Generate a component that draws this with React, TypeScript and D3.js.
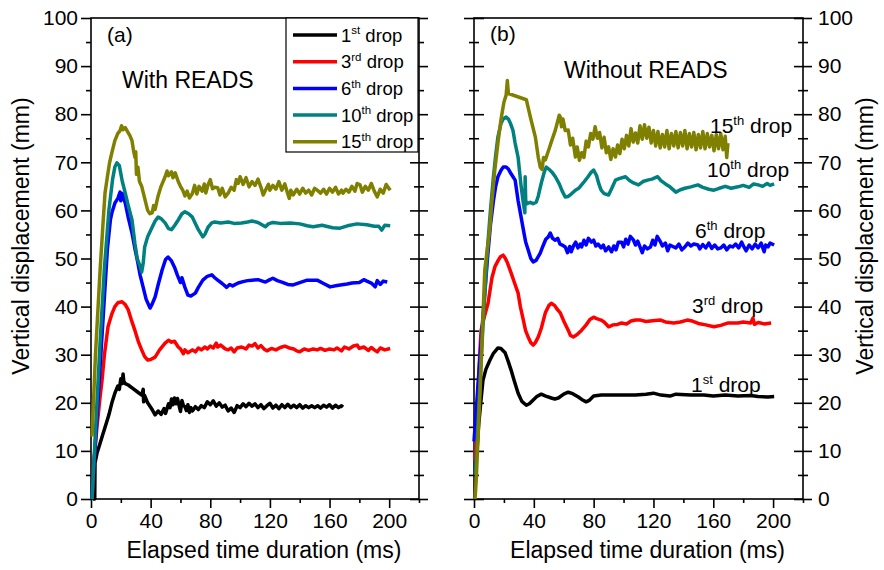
import React, { useEffect, useRef } from "react"
import * as d3 from "d3"

const W = 884
const H = 570

// time (ms), vertical displacement (mm) — panel (a) With READS
const a1st: [number, number][] = [[1.3,0],[2.5,0],[2.7,7.5],[4,9.5],[6,11.5],[8,13.5],[10,15.5],[12,17.5],[14,20],[16,22],[18,23.5],[19,22.8],[20,25],[21,24],[21.5,26],[22,24.5],[23,24],[25,23.7],[28,23],[31,22.3],[34,21.6],[35,22.8],[35.3,20.2],[36,21.5],[38,20],[41,18.6],[43,17.5],[45,18.3],[47,17.6],[49,18.8],[50,17.8],[52,19.8],[53,19],[54,20.8],[55,19.6],[56,21],[57,19.8],[58,20.9],[59,19.5],[60,18.2],[61,20.5],[62,19.4],[63,19.2],[64,18.4],[65,19.6],[66,18],[67,19],[68,18.3],[70,19.2],[72,18.6],[74,19.4],[76,19],[78,20.2],[80,19.6],[82,20.4],[84,19.3],[86,20],[88,19.1],[90,19.5],[92,18.3],[94,18.9],[96,18],[98,19.4],[100,19],[102,19.8],[104,19.2],[106,19.9],[108,19.3],[110,19.8],[112,19],[114,19.6],[116,18.8],[118,19.4],[120,19.9],[122,18.9],[124,19.5],[126,18.8],[128,19.6],[130,19],[132,19.7],[134,19],[136,19.5],[138,19],[140,19.6],[142,18.9],[144,19.4],[146,19],[148,19.4],[150,19],[152,19.4],[154,18.9],[156,19.5],[158,19.1],[160,19.6],[162,18.9],[164,19.5],[166,19],[168,19.4],[169,19.1]]
const a3rd: [number, number][] = [[0.7,0],[2,8],[4,15],[6,21],[7.4,24.7],[9,30],[11.4,35.8],[14,38.5],[16,40],[18,40.8],[20.8,41],[23,40.4],[25,39.3],[27,37.3],[29.5,35],[32,32.5],[34,31],[36,29.6],[38,28.9],[40,29],[43,29.5],[46,31],[49.7,32.4],[52,33],[54,32.6],[56,32.8],[58.5,31.6],[60,31.2],[62,30.2],[63,31],[65,30.4],[68,31],[70,30.6],[72,31.4],[74,31],[76.5,31.6],[78,31.2],[80,31.8],[82,31.4],[84,32.4],[85,31.6],[87,32],[90,31.2],[92,31],[94,31.4],[96,30.6],[98,31.4],[101,31.6],[104,31.2],[106,32],[108,31.8],[110,32.3],[112,31.4],[114,31.9],[116,31.2],[118,30.8],[121,31.3],[124,31],[127,31.5],[130,31.8],[133,31.4],[136,31.2],[138,30.8],[140,30.6],[143,31.2],[146,30.9],[149,31.2],[151.7,31],[154,31.3],[157,30.9],[160,31.2],[163,31],[165,31.4],[168,30.8],[170,31.6],[173,31.2],[176,31.8],[178.5,32],[180,31.3],[183,31.6],[186,30.9],[188,31.5],[190,31],[192,30.6],[194,31.4],[197,31],[200.7,31.3]]
const a6th: [number, number][] = [[0.5,0],[3,12],[6,27],[9,42],[11,52],[13,58],[14,59.5],[16,61.5],[18,62.5],[19.5,63.8],[20,62],[21,63.5],[23,61.5],[25,58.5],[27.5,55.3],[29.5,52],[31.5,49],[33,46.5],[35,44],[37,41.5],[39.6,39.7],[41,40.5],[43,42],[45,44.5],[47.7,47.6],[50,49.8],[51.7,50.3],[54,49.5],[56,48.2],[58,46.5],[60,45],[61,46],[63,44],[65,42.4],[67,42.2],[70,42.8],[72,44],[75,45.5],[78,46.3],[81,46.6],[83,46],[85,45.5],[88,44.8],[91,44],[93,44.6],[95,44.3],[98.7,44.9],[102,45.2],[105,45.4],[108,45.5],[112,45.6],[117,45.1],[120,45.6],[122,45.9],[125,45.4],[128,45.1],[132,44.6],[135.6,44.5],[140,45],[145,45.5],[151.7,45.5],[156,44.8],[160.4,44.1],[165,44.4],[171.8,44.7],[175,44.9],[180,45],[183,45.6],[185,45.3],[188,44.9],[190.6,44.1],[192,45.4],[194,44.6],[196,45.3],[198.7,45.1]]
const a10th: [number, number][] = [[0.7,0],[3,14],[6,32],[9,48],[12,60],[14.5,66.5],[16,69],[17.4,69.9],[19,69.3],[21,66],[23,63.6],[25,61],[27.5,58],[29.5,53],[31,50],[33,48.3],[34,47.2],[35,49],[36,52.4],[38,54.5],[41,56.5],[43,57.8],[45,58.6],[47,58.3],[49.7,57.4],[52,56.2],[54,56],[56,56.8],[58.5,58],[61,59.3],[63,59.7],[65.5,59.3],[68,58.6],[70,57.3],[72,56],[75,54.5],[76.5,55.1],[78.5,56.5],[81,57.4],[83,57.6],[87,57.4],[92,57.6],[96,57.3],[101,57.4],[105,57.6],[108,57.8],[112,57.5],[117,56.6],[119,57.2],[122,57.5],[127,57.3],[133.6,57.4],[140,57.2],[145,56.8],[149,56.6],[155,56.9],[162,56.4],[167,56.3],[172,56.8],[178.5,57.2],[185,57],[190,56.7],[193,56.7],[195,55.9],[197,56.9],[200.7,56.8]]
const a15th: [number, number][] = [[0.7,13],[3,30],[6,47],[8,57],[9.4,63.6],[11,67],[12.5,70],[14,72],[16,74.5],[18,76],[19.5,76.6],[20.5,77.6],[21.5,76.8],[23,77.2],[24.5,76.4],[26,75.6],[27.5,74.5],[28.5,72.5],[29.5,71],[30,72.2],[30.5,67.5],[31.5,69],[32.5,66],[34,65],[36,62.5],[38,60],[39.5,59.3],[41,59.5],[42,61],[43,60.2],[45,63],[47,65],[49.7,67],[51,68.2],[52,67.2],[54,68],[55,66.8],[56.5,67.8],[58.5,66],[60,65],[61.5,64.2],[63,63],[64.5,64],[66,62.6],[68,63.5],[69.5,65.2],[71,63.4],[72.5,65],[74.5,64],[76,65.5],[77,63.6],[78.5,65.3],[80,66.4],[81.5,64.5],[83,64.8],[85,64.7],[86.5,63.2],[88,64.6],[90,62.8],[92,63.6],[94,64.8],[96,64.2],[97.5,66.4],[98.7,65.6],[100,67],[102,65.4],[104,66.8],[106,64.9],[108,66],[110,65.2],[112,66.5],[114,64.8],[115.5,63.2],[117,64.2],[119,65.4],[120,64.2],[122,65.2],[124,64.4],[126,66],[128,64.2],[130,65.5],[132,63.4],[133,62.5],[134,64.2],[135.6,63.2],[138,64.4],[140,63.4],[142,64.6],[144,63.6],[146,64.2],[148,63.2],[150,64.6],[151.7,64.2],[154,63.6],[156,64.4],[158,63.4],[160,64.6],[162,63.8],[164,64.8],[166,63.4],[168,64.2],[169,63.6],[171,64.4],[173,63.8],[175,65],[177,64],[178.5,65.6],[180.5,65.3],[182,63.8],[184,65],[186,64.2],[188,65.6],[190,64],[192,62.8],[194,64.4],[196,63.6],[198,65.4],[200.7,64.2]]

// panel (b) Without READS
const b1st: [number, number][] = [[2,10],[3,15],[4.5,20],[6,24.7],[8,27],[10.7,28.9],[13,30.3],[16,31.4],[18,31.3],[20.8,30.4],[23,28.5],[24.8,26.8],[27,24.5],[29.5,22],[32,20.3],[35,19.5],[37,19.8],[39.6,20.6],[42,21.3],[45,21.8],[48,21.4],[51.7,21],[54,20.8],[56.4,21],[60,21.8],[63,22.2],[66,21.9],[69.8,21.2],[72,20.7],[75,20.2],[77,20.5],[80,21.4],[85,21.6],[90,21.6],[100,21.6],[108,21.6],[115,21.8],[120,22],[125,21.6],[131,21.4],[135,21.8],[145,21.6],[153.7,21.6],[160,21.4],[168,21.6],[176.5,21.4],[185,21.5],[190,21.3],[196.6,21.2],[200.7,21.3]]
const b3rd: [number, number][] = [[0.5,8],[2,18],[3.5,28],[4.7,35],[7,38],[9.4,40.7],[12,46],[14,48.3],[16,49.5],[17.5,50.3],[19.5,50.7],[21,50],[22.5,49],[24.8,47],[27,45],[29.5,42.8],[31,40],[33,37.2],[34.5,35],[36.2,33.7],[38,32.5],[39.6,32],[41,32.5],[43,33.7],[45,35.5],[47.7,38.7],[50,40.2],[51.7,40.7],[54,40.2],[55.5,39.5],[57.7,38.7],[60,37],[63,35.1],[64.5,34],[66.4,33.7],[69,34.2],[72,35.1],[75,36.2],[77.5,37.3],[80,37.8],[82,37.5],[85,37.2],[87,36.8],[90,35.8],[93,36.2],[96,36.3],[98.7,36.6],[102,36.4],[105,37],[108,37.2],[111.4,37.2],[115,36.9],[118,37],[121,37.1],[124.8,37.2],[128,36.8],[133.6,36.6],[138,36.8],[142.6,37.2],[146,37],[150,36.5],[155,36.2],[160.4,35.8],[165,36.1],[170,36.6],[176.5,36.6],[180,36.8],[185,36.6],[186.5,37.6],[187.5,36.3],[190,36.7],[194,36.4],[198.7,36.6]]
const b6th: [number, number][] = [[0,12],[3,25],[6,38],[9,50],[11,57],[13,62],[14.5,65],[16,67],[18,68.3],[19.5,69],[21.5,69],[23,68.6],[25,67.5],[27.5,66.3],[29.5,62],[31.5,58.6],[33,56],[34.5,53.5],[36.2,51.8],[38,50],[39.6,49.3],[41.5,49.6],[44.3,51.1],[46,52.5],[48,54],[49.7,54.5],[51,55.3],[52.5,54.2],[54.4,53.8],[56,54.2],[57.5,53],[59,52.8],[61,52.4],[62.5,51.2],[64,52.5],[65,51.4],[66.5,52.6],[68,53.4],[69.5,52.2],[71,53],[72,52.4],[73.5,53.8],[75,52.8],[76.5,54.2],[78.5,53.4],[80,53.8],[81.5,52.6],[83,53],[85,52.2],[86.5,52.8],[88,51.6],[90,52.4],[92,51.4],[93.5,52.6],[95,51.8],[96.5,53.4],[98.7,53.4],[100,52.4],[101.5,54],[103,53],[104.5,54.6],[106.7,53.8],[108,52.8],[109.5,53.6],[111,52.4],[112.5,51.2],[114,52.6],[116,52],[118,52.4],[119.5,53.8],[121,52.8],[122.5,54.6],[124.8,53.4],[126,52.6],[128,53.2],[129.5,51.6],[131,52.8],[133.6,52.4],[135,52.2],[137,53],[139,51.8],[141,52.4],[143,53.2],[145,52.6],[147,53],[149.7,52.8],[151,52],[153,52.9],[155,52.2],[157,53.2],[159,52.1],[161,52.8],[163,52],[165,52.2],[167,52.8],[169,51.8],[171,52.6],[173,52.4],[175,53],[177,52.2],[179,53.4],[180.5,52.4],[182,51.6],[184,52.8],[186,52],[188,53],[190,52.2],[192,53.2],[194,51.4],[195,52.8],[196.6,52.4],[198,53.2],[200.7,52.8]]
const b10th: [number, number][] = [[1,5],[3,18],[6,36],[9,52],[11,60],[13,67],[14.5,71.5],[16,75.3],[18,78],[19.5,79],[21.5,79.4],[23,79],[24.5,78],[26,76.7],[27.5,74],[29.5,71],[30.5,68],[31.5,65],[33,61.5],[34,59.5],[34.2,67],[34.6,62],[35.5,61.4],[37.6,61.7],[39.5,61.4],[41.6,61.7],[43,63],[45,65.7],[47,68],[48.3,69],[50,68.6],[52,68],[54.4,67],[57,65.5],[59,64],[61,62.8],[63,62.9],[65,63.4],[67.8,64.2],[70,64.6],[73,65.7],[76,66.9],[78,67.8],[80,68.4],[82,67.2],[83.5,65.5],[85,64.2],[87,63.5],[90,63.2],[92,64.5],[94.6,66.3],[97,66.6],[101.3,67],[104,66.2],[106.7,65.7],[110,65.3],[113,66],[116,66.3],[119,66.5],[122.8,67],[125,66.2],[128,65.5],[131,64.9],[135,63.8],[138,64.3],[141,64.6],[145,64.9],[149.7,65.3],[153,64.8],[157,64.4],[160.4,64.2],[164,64.6],[168,65],[172,64.6],[176.5,64.9],[180,65.2],[184,64.8],[187,65.5],[190,65.3],[193,65],[196,65.6],[198,65.2],[200.7,65.5]]
const b15th: [number, number][] = [[0.7,0],[1.5,4],[4,22],[7.2,47.6],[10.5,56],[12,62],[13.9,68.4],[16,74],[18,78.8],[20,82.5],[21.5,84],[22.3,87],[23,84.3],[35,83],[36.5,81],[38,79],[41,75.3],[43,71],[44.3,69],[45.5,68.5],[46.5,71],[47.7,70.5],[50,72.6],[52,74.5],[54.4,76.7],[56,78.6],[57,79.8],[57.7,79.4],[58.5,77.4],[59.5,79],[61,76.6],[63,76.7],[64.5,73.6],[66,75],[67.8,71.1],[69,73.2],[70.5,70.4],[72,72],[73.5,71],[75,74.4],[76.5,73.2],[78,76],[79.5,74.8],[81,77.4],[82.5,75],[84,76.2],[85.5,73],[87,75.2],[88.5,72],[90,73.2],[91.5,70.6],[93,72.8],[94.6,71.1],[96,73.6],[97.5,71.8],[99,74.8],[100.5,72.8],[102,75.6],[103.5,73.4],[105,77],[106.5,74.2],[108,76.1],[109.5,74],[111,77.6],[112.5,74.8],[114,77.8],[115.5,75],[117,77.3],[118.5,74],[120,76.6],[121.5,73.4],[123,76.4],[124.5,73],[126,75.8],[127.5,73.2],[129,76.6],[130.5,72.8],[132,76],[133.6,73.4],[135,76.4],[136.5,73],[138,76.2],[139.5,73.4],[141,76.6],[142.5,72.8],[144,76],[145.5,73.2],[147,76.2],[148.5,72.6],[150,75.8],[151.5,73],[153,76.4],[154.5,72.8],[156,76],[157.5,73.2],[159,75.6],[160.5,72.4],[162,75.8],[163.5,72.8],[165,76],[166.5,72.6],[168,75.4],[169,71],[169.8,74]]

const dropNames = ["1", "3", "6", "10", "15"]
const dropSups = ["st", "rd", "th", "th", "th"]
const dropColors = ["#000000", "#ff0000", "#0000ff", "#008080", "#808000"]
const seriesA = [a1st, a3rd, a6th, a10th, a15th]
const seriesB = [b1st, b3rd, b6th, b10th, b15th]

const xMajor = [0, 40, 80, 120, 160, 200]
const xMinor = [20, 60, 100, 140, 180, 220]
const yMajor = [0, 10, 20, 30, 40, 50, 60, 70, 80, 90, 100]
const yMinor = [5, 15, 25, 35, 45, 55, 65, 75, 85, 95]

const FONT = "'Liberation Sans', Arial, sans-serif"

function dropLabel(sel, i, size) {
    sel.append("tspan").text(dropNames[i])
    sel.append("tspan").text(dropSups[i]).attr("font-size", size * 0.62).attr("dy", -size * 0.4)
    sel.append("tspan").text(" drop").attr("dy", size * 0.4)
}

function drawPanel(svg, x0, x1, series, leftCross, rightLabels) {
    const x = d3.scaleLinear().domain([0, 220]).range([x0, x1])
    const y = d3.scaleLinear().domain([0, 100]).range([499, 18])
    const g = svg.append("g")

    // bottom axis
    const bot = g.append("g").attr("transform", "translate(0,499)")
    bot.call(d3.axisBottom(x).tickValues(xMajor).tickSize(9).tickPadding(5).tickSizeOuter(0))
    bot.append("g").call(d3.axisBottom(x).tickValues(xMinor).tickSize(4).tickFormat(() => "").tickSizeOuter(0))

    // left axis
    const left = g.append("g").attr("transform", `translate(${x0},0)`)
    left.call(d3.axisLeft(y).tickValues(yMajor).tickSize(10).tickPadding(3).tickSizeOuter(0))
    left.append("g").call(d3.axisLeft(y).tickValues(yMinor).tickSize(5).tickFormat(() => "").tickSizeOuter(0))
    if (leftCross) {
        left.selectAll(".tick text").remove()
        left.selectAll(".tick line").attr("x1", function () { return -d3.select(this).attr("x2") })
    }

    // right axis
    const right = g.append("g").attr("transform", `translate(${x1},0)`)
    right.call(d3.axisRight(y).tickValues(yMajor).tickSize(9).tickPadding(6).tickSizeOuter(0))
    right.append("g").call(d3.axisRight(y).tickValues(yMinor).tickSize(5).tickFormat(() => "").tickSizeOuter(0))
    right.selectAll(".tick line").attr("x1", function () { return -d3.select(this).attr("x2") })
    if (!rightLabels) right.selectAll(".tick text").remove()

    g.selectAll(".domain").remove()
    g.selectAll(".tick line").attr("stroke", "#000").attr("stroke-width", 1.6)
    g.selectAll(".tick text").attr("font-family", FONT).attr("font-size", 21).attr("fill", "#000")

    g.append("rect")
        .attr("x", x0).attr("y", 18)
        .attr("width", x1 - x0).attr("height", 499 - 18)
        .attr("fill", "none").attr("stroke", "#000").attr("stroke-width", 1.6)

    const line = d3.line<[number, number]>().x(d => x(d[0])).y(d => y(d[1]))
    series.forEach((data, i) => {
        g.append("path")
            .attr("d", line(data))
            .attr("fill", "none")
            .attr("stroke", dropColors[i])
            .attr("stroke-width", 3.5)
            .attr("stroke-linejoin", "round")
    })

    g.append("text")
        .attr("x", (x0 + x1) / 2 + 9).attr("y", 558)
        .attr("text-anchor", "middle")
        .attr("font-family", FONT).attr("font-size", 23)
        .text("Elapsed time duration (ms)")
    return g
}

export default function App() {
    const ref = useRef(null)
    useEffect(() => {
        const svg = d3.select(ref.current)
        svg.selectAll("*").remove()
        svg.append("rect").attr("width", W).attr("height", H).attr("fill", "#fff")

        const ga = drawPanel(svg, 91, 419, seriesA, false, false)
        const gb = drawPanel(svg, 474, 803, seriesB, true, true)

        // y titles
        svg.append("text")
            .attr("transform", "translate(29,236) rotate(-90)")
            .attr("text-anchor", "middle")
            .attr("font-family", FONT).attr("font-size", 23)
            .text("Vertical displacement (mm)")
        svg.append("text")
            .attr("transform", "translate(873,236) rotate(-90)")
            .attr("text-anchor", "middle")
            .attr("font-family", FONT).attr("font-size", 23)
            .text("Vertical displacement (mm)")

        // panel texts
        ga.append("text").attr("x", 107).attr("y", 42).attr("font-family", FONT).attr("font-size", 21).text("(a)")
        ga.append("text").attr("x", 122).attr("y", 88).attr("font-family", FONT).attr("font-size", 23).text("With READS")
        gb.append("text").attr("x", 490).attr("y", 41).attr("font-family", FONT).attr("font-size", 21).text("(b)")
        gb.append("text").attr("x", 564).attr("y", 78).attr("font-family", FONT).attr("font-size", 23).text("Without READS")

        // legend
        const lg = ga.append("g")
        lg.append("rect").attr("x", 286).attr("y", 18).attr("width", 132).attr("height", 134)
            .attr("fill", "#fff").attr("stroke", "#000").attr("stroke-width", 1.2)
        dropNames.forEach((_, i) => {
            const cy = 35 + i * 26.7
            lg.append("line").attr("x1", 293).attr("x2", 337).attr("y1", cy).attr("y2", cy)
                .attr("stroke", dropColors[i]).attr("stroke-width", 3.5)
            const t = lg.append("text").attr("x", 341).attr("y", cy + 6.5)
                .attr("font-family", FONT).attr("font-size", 18.5)
            dropLabel(t, i, 18.5)
        })

        // inline labels on panel (b)
        const inline = [[691, 392], [692, 313], [695, 238], [707, 177], [710, 133]]
        inline.forEach((p, i) => {
            const t = gb.append("text").attr("x", p[0]).attr("y", p[1])
                .attr("font-family", FONT).attr("font-size", 21)
            dropLabel(t, i, 21)
        })
    }, [])
    return <svg ref={ref} width={W} height={H} style={{ position: "absolute", left: 0, top: 0 }} />
}
